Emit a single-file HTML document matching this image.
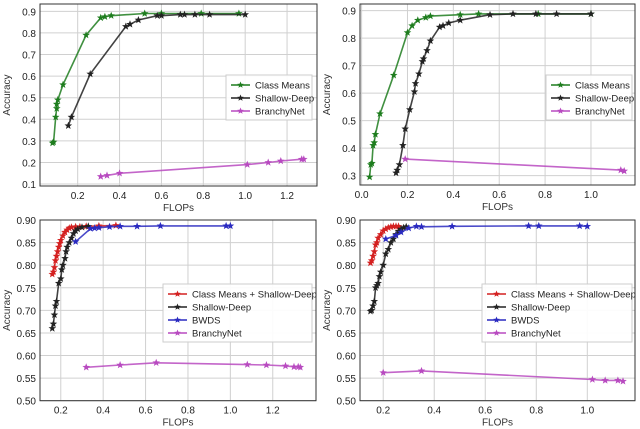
<!DOCTYPE html>
<html><head><meta charset="utf-8"><style>
html,body{margin:0;padding:0;background:#fff;width:640px;height:429px;overflow:hidden}
svg{display:block;font-family:"Liberation Sans",sans-serif}
</style></head><body>
<svg id="fig" width="640" height="429" viewBox="0 0 640 429"></svg>
<script>
// ---- Chart 1 (top-left) ----
const c1CmX=[0.08,0.085,0.095,0.1,0.1,0.105,0.13,0.24,0.31,0.33,0.36,0.52,0.6,0.79,0.97];
const c1CmY=[0.29,0.295,0.41,0.45,0.47,0.49,0.56,0.79,0.87,0.875,0.88,0.89,0.89,0.89,0.89];
const c1SdX=[0.155,0.17,0.26,0.43,0.45,0.49,0.58,0.6,0.69,0.71,0.76,0.83,1.0];
const c1SdY=[0.37,0.41,0.61,0.83,0.84,0.86,0.88,0.88,0.885,0.885,0.885,0.885,0.885];
const c1BnX=[0.31,0.34,0.40,1.01,1.11,1.17,1.27,1.28];
const c1BnY=[0.135,0.14,0.15,0.19,0.2,0.207,0.215,0.215];
const c1XTicks=[0.2,0.4,0.6,0.8,1.0,1.2];
const c1YTicks=[0.1,0.2,0.3,0.4,0.5,0.6,0.7,0.8,0.9];
// ---- Chart 2 (top-right) ----
const c2CmX=[0.035,0.04,0.045,0.05,0.055,0.06,0.08,0.14,0.2,0.22,0.245,0.28,0.3,0.43,0.51,0.77,1.0];
const c2CmY=[0.295,0.34,0.345,0.41,0.42,0.45,0.525,0.665,0.82,0.845,0.865,0.875,0.88,0.885,0.888,0.888,0.888];
const c2SdX=[0.15,0.155,0.165,0.18,0.19,0.21,0.23,0.235,0.25,0.265,0.27,0.285,0.3,0.34,0.355,0.38,0.43,0.56,0.66,0.76,0.85,1.0];
const c2SdY=[0.31,0.32,0.34,0.41,0.47,0.54,0.605,0.635,0.67,0.715,0.725,0.755,0.79,0.84,0.845,0.855,0.865,0.885,0.888,0.888,0.888,0.888];
const c2BnX=[0.19,1.13,1.145];
const c2BnY=[0.36,0.32,0.317];
const c2XTicks=[0.0,0.2,0.4,0.6,0.8,1.0];
const c2YTicks=[0.3,0.4,0.5,0.6,0.7,0.8,0.9];
// ---- Chart 3 (bottom-left) ----
const c3RedX=[0.16,0.165,0.17,0.175,0.18,0.185,0.19,0.195,0.2,0.21,0.22,0.23,0.24,0.25,0.27,0.29,0.32,0.38,0.46];
const c3RedY=[0.78,0.785,0.795,0.81,0.82,0.83,0.84,0.848,0.855,0.865,0.873,0.878,0.882,0.884,0.885,0.885,0.886,0.887,0.888];
const c3SdX=[0.16,0.165,0.17,0.175,0.18,0.19,0.2,0.205,0.21,0.22,0.225,0.23,0.24,0.25,0.26,0.27,0.28,0.3,0.33];
const c3SdY=[0.66,0.67,0.69,0.71,0.72,0.76,0.77,0.79,0.80,0.815,0.83,0.84,0.85,0.86,0.87,0.876,0.88,0.884,0.886];
const c3BwX=[0.27,0.34,0.36,0.38,0.43,0.48,0.56,0.67,0.98,1.0];
const c3BwY=[0.852,0.881,0.882,0.883,0.885,0.886,0.886,0.887,0.887,0.887];
const c3BnX=[0.32,0.48,0.65,1.08,1.17,1.26,1.3,1.32,1.33];
const c3BnY=[0.574,0.579,0.584,0.58,0.579,0.577,0.575,0.575,0.574];
const c3XTicks=[0.2,0.4,0.6,0.8,1.0,1.2];
const c3YTicks=[0.50,0.55,0.60,0.65,0.70,0.75,0.80,0.85,0.90];
// ---- Chart 4 (bottom-right) ----
const c4RedX=[0.15,0.155,0.16,0.165,0.17,0.175,0.18,0.19,0.2,0.21,0.22,0.23,0.24,0.25,0.26];
const c4RedY=[0.805,0.81,0.82,0.83,0.845,0.85,0.86,0.868,0.876,0.88,0.883,0.885,0.886,0.886,0.886];
const c4SdX=[0.15,0.155,0.16,0.165,0.17,0.175,0.18,0.185,0.19,0.2,0.21,0.22,0.23,0.24,0.25,0.26,0.27,0.28,0.29];
const c4SdY=[0.698,0.70,0.71,0.72,0.75,0.755,0.76,0.775,0.785,0.80,0.825,0.835,0.85,0.858,0.868,0.875,0.88,0.883,0.885];
const c4BwX=[0.21,0.25,0.27,0.3,0.33,0.35,0.47,0.77,0.81,0.97,1.0];
const c4BwY=[0.858,0.866,0.873,0.882,0.886,0.885,0.886,0.887,0.887,0.887,0.886];
const c4BnX=[0.2,0.35,1.02,1.07,1.12,1.14];
const c4BnY=[0.562,0.566,0.547,0.545,0.545,0.543];
const c4XTicks=[0.2,0.4,0.6,0.8,1.0];
const c4YTicks=[0.50,0.55,0.60,0.65,0.70,0.75,0.80,0.85,0.90];

const NS="http://www.w3.org/2000/svg";
const fig=document.getElementById('fig');
function mk(tag,attrs,parent){const e=document.createElementNS(NS,tag);for(const k in attrs)e.setAttribute(k,attrs[k]);(parent||fig).appendChild(e);return e;}
function star(cx,cy,r){let p=[];for(let i=0;i<10;i++){const a=-Math.PI/2+i*Math.PI/5;const rr=i%2?r*0.42:r;p.push((cx+rr*Math.cos(a)).toFixed(1)+','+(cy+rr*Math.sin(a)).toFixed(1));}return p.join(' ');}

function chart(id,box,xd,yd,xTicks,yTicks,dec,series,leg){
  const g=mk('g',{});
  
  
  const sx=v=>box.x0+(v-xd[0])/(xd[1]-xd[0])*(box.x1-box.x0);
  const sy=v=>box.y1-(v-yd[0])/(yd[1]-yd[0])*(box.y1-box.y0);
  xTicks.forEach(t=>{
    const x=sx(t);
    const l=mk('line',{x1:x,x2:x,y1:box.y0,y2:box.y1,stroke:'#d0d0d0','stroke-width':1},g);
    
    const tx=mk('text',{x:x,y:box.y1+13,'font-size':10,'text-anchor':'middle',fill:'#222'},g);
    tx.textContent=t.toFixed(1);
    
  });
  yTicks.forEach(t=>{
    const y=sy(t);
    const l=mk('line',{x1:box.x0,x2:box.x1,y1:y,y2:y,stroke:'#d0d0d0','stroke-width':1},g);
    
    const tx=mk('text',{x:box.x0-4,y:y+4,'font-size':10,'text-anchor':'end',fill:'#222'},g);
    tx.textContent=t.toFixed(dec);
    
  });
  const fr=mk('rect',{x:box.x0,y:box.y0,width:box.x1-box.x0,height:box.y1-box.y0,fill:'none',stroke:'#333','stroke-width':1},g);
  
  const xl=mk('text',{x:(box.x0+box.x1)/2,y:box.y1+25,'font-size':10,'text-anchor':'middle',fill:'#333'},g);
  xl.textContent='FLOPs';
  const yx=box.x0-30, yc=(box.y0+box.y1)/2;
  const yl=mk('text',{x:yx,y:yc,'font-size':10,'text-anchor':'middle',fill:'#333',transform:`rotate(-90 ${yx} ${yc})`},g);
  yl.textContent='Accuracy';
  const clip='clip-'+id;
  const cp=mk('clipPath',{id:clip},g);mk('rect',{x:box.x0,y:box.y0,width:box.x1-box.x0,height:box.y1-box.y0},cp);
  series.forEach(s=>{
    const sg=mk('g',{'clip-path':`url(#${clip})`},g);
    
    const pts=s.x.map((v,i)=>sx(v).toFixed(1)+','+sy(s.y[i]).toFixed(1)).join(' ');
    const pl=mk('polyline',{points:pts,fill:'none',stroke:s.c,'stroke-width':1.6,opacity:0.85},sg);
    
    s.x.forEach((v,i)=>{
      const p=mk('polygon',{points:star(sx(v),sy(s.y[i]),4),fill:s.c},sg);
      
    });
  });
  const lg=mk('g',{},g);
  
  const lh=series.length*13+6;
  mk('rect',{x:leg.x,y:leg.y,width:leg.w,height:lh,fill:'#fff',stroke:'#ccc','stroke-width':1,opacity:0.95},lg);
  series.forEach((s,i)=>{
    const y=leg.y+10+i*13;
    const e=mk('g',{},lg);
    
    mk('line',{x1:leg.x+5,x2:leg.x+24,y1:y,y2:y,stroke:s.c,'stroke-width':1.6},e);
    mk('polygon',{points:star(leg.x+14.5,y,3.5),fill:s.c},e);
    const t=mk('text',{x:leg.x+29,y:y+3.5,'font-size':9.5,fill:'#222'},e);
    t.textContent=s.label;
  });
}
const G='#1e7d1e',K='#222',R='#d42020',B='#2a2ac0',M='#b84ac0';
chart('chart-top-left',{x0:40,x1:317,y0:4,y1:186},[0.02,1.343],[0.091,0.934],c1XTicks,c1YTicks,1,
 [{name:'class-means',label:'Class Means',c:G,x:c1CmX,y:c1CmY},
  {name:'shallow-deep',label:'Shallow-Deep',c:K,x:c1SdX,y:c1SdY},
  {name:'branchynet',label:'BranchyNet',c:M,x:c1BnX,y:c1BnY}],{x:226,y:75,w:86});
chart('chart-top-right',{x0:360,x1:635,y0:4,y1:185},[-0.007,1.192],[0.266,0.924],c2XTicks,c2YTicks,1,
 [{name:'class-means',label:'Class Means',c:G,x:c2CmX,y:c2CmY},
  {name:'shallow-deep',label:'Shallow-Deep',c:K,x:c2SdX,y:c2SdY},
  {name:'branchynet',label:'BranchyNet',c:M,x:c2BnX,y:c2BnY}],{x:546,y:75,w:86});
chart('chart-bottom-left',{x0:40,x1:316,y0:220,y1:400.7},[0.102,1.404],[0.5,0.9],c3XTicks,c3YTicks,2,
 [{name:'class-means-shallow-deep',label:'Class Means + Shallow-Deep',c:R,x:c3RedX,y:c3RedY},
  {name:'shallow-deep',label:'Shallow-Deep',c:K,x:c3SdX,y:c3SdY},
  {name:'bwds',label:'BWDS',c:B,x:c3BwX,y:c3BwY},
  {name:'branchynet',label:'BranchyNet',c:M,x:c3BnX,y:c3BnY}],{x:163,y:284,w:149});
chart('chart-bottom-right',{x0:360,x1:635,y0:220,y1:400.7},[0.109,1.187],[0.5,0.9],c4XTicks,c4YTicks,2,
 [{name:'class-means-shallow-deep',label:'Class Means + Shallow-Deep',c:R,x:c4RedX,y:c4RedY},
  {name:'shallow-deep',label:'Shallow-Deep',c:K,x:c4SdX,y:c4SdY},
  {name:'bwds',label:'BWDS',c:B,x:c4BwX,y:c4BwY},
  {name:'branchynet',label:'BranchyNet',c:M,x:c4BnX,y:c4BnY}],{x:482,y:284,w:150});
</script>
</body></html>
